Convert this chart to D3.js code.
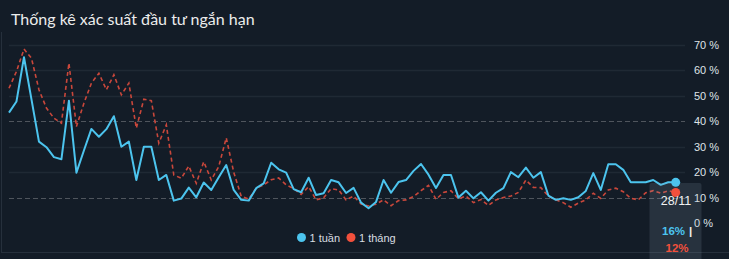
<!DOCTYPE html>
<html>
<head>
<meta charset="utf-8">
<script src="https://cdn.jsdelivr.net/npm/d3@7"></script>
<style>
  html, body { margin: 0; padding: 0; background: #131c27; overflow: hidden; }
  #graphic { width: 729px; height: 259px; }
</style>
</head>
<body>
<div id="graphic"></div>
<script>
// Global vars
var TITLE = 'Thống kê xác suất đầu tư ngắn hạn';
var LAST_LABEL = '28/11';
var SERIES_NAMES = ['1 tuần', '1 tháng'];
var TICKS = [0, 10, 20, 30, 40, 50, 60, 70];
var DASHED_TICKS = [10, 40];

// 1 tuần (%)
var weekValues = [
  43.4, 47.8, 65.2, 48.6, 32, 29.8, 25.9, 25.1, 48.1, 19.8,
  28.5, 37, 33.9, 36.9, 42, 30, 32, 16.9, 30, 30,
  16.9, 18.9, 8.8, 9.6, 13.9, 10.1, 15.9, 13, 18, 22.8,
  13, 9.1, 8.8, 13.7, 15.6, 23.7, 21.1, 19.8, 13.3, 12.1,
  17.8, 11, 11.7, 16.9, 16, 11.8, 13.8, 8, 5.8, 8.3,
  16.9, 11.9, 16.1, 16.9, 20.5, 23.2, 19, 13.8, 18.9, 18.9,
  10, 12.7, 9.7, 12.1, 8.8, 11.9, 13.7, 20, 18, 21.8,
  17.8, 20, 10.8, 9.1, 9.7, 9.1, 10.1, 12.6, 19.6, 13,
  23.1, 23.1, 20.9, 16, 16, 16, 16.9, 15, 16, 16
];

// 1 tháng (%)
var monthValues = [
  53, 59.6, 68.4, 64.8, 52.4, 45.2, 41.2, 39.3, 62.9, 37.9,
  47.1, 55, 58.9, 52.4, 58.3, 50.4, 55, 37.3, 48.7, 48.1,
  31.4, 38.6, 18.9, 17.6, 22.4, 15.6, 24.1, 16.9, 22.2, 33.5,
  20, 10.5, 9.4, 13.7, 15, 17, 17.7, 15, 13.5, 11.2,
  14.3, 9.1, 9.9, 13.5, 13, 9.1, 10.6, 7.5, 6.7, 7.4,
  9.1, 6.8, 8.8, 9.1, 10.4, 12.7, 14.8, 9.3, 12, 12.7,
  9.5, 10.6, 8, 9.2, 6.9, 9.1, 10, 10.6, 12, 16.9,
  14, 13.9, 10.6, 9.1, 8, 6.2, 7.8, 9.1, 11.7, 9.7,
  13, 13.7, 12.3, 9.7, 9.1, 11.9, 12.7, 11.7, 12.7, 12
];

var WEEK_COLOR = '#4cc4ee';
var MONTH_COLOR = '#c9473b';
var MONTH_DOT = '#f2503c';

/*
 * Render the graphic.
 */
var render = function () {
  var width = 729;
  var height = 259;

  var containerElement = d3.select('#graphic');
  containerElement.html('');

  var svg = containerElement
    .append('svg')
    .attr('width', width)
    .attr('height', height);

  svg.append('rect')
    .attr('width', width)
    .attr('height', height)
    .attr('fill', '#131c27');

  // panel borders
  svg.append('line')
    .attr('x1', 1.5).attr('x2', 1.5)
    .attr('y1', 32).attr('y2', 253)
    .attr('stroke', '#26303c');
  svg.append('line')
    .attr('x1', 1).attr('x2', width)
    .attr('y1', 252.5).attr('y2', 252.5)
    .attr('stroke', '#26303c');

  // title
  svg.append('text')
    .attr('x', 11)
    .attr('y', 25)
    .attr('fill', '#ececec')
    .style('font-family', 'Lato, "Open Sans", sans-serif')
    .style('font-size', '16px')
    .text(TITLE);

  var xScale = d3.scaleLinear()
    .domain([0, weekValues.length - 1])
    .range([9, 675.7]);

  var yScale = d3.scaleLinear()
    .domain([0, 70])
    .range([223, 45]);

  // grid lines
  var grid = svg.append('g');
  grid.selectAll('line')
    .data(TICKS.filter(function (d) { return d > 0; }))
    .enter().append('line')
    .attr('x1', 9)
    .attr('x2', 685)
    .attr('y1', function (d) { return Math.round(yScale(d)) + 0.5; })
    .attr('y2', function (d) { return Math.round(yScale(d)) + 0.5; })
    .attr('stroke', function (d) {
      return DASHED_TICKS.indexOf(d) >= 0 ? '#4f555d' : '#1f2934';
    })
    .attr('stroke-width', function (d) {
      return DASHED_TICKS.indexOf(d) >= 0 ? 1.2 : 1.5;
    })
    .attr('stroke-dasharray', function (d) {
      return DASHED_TICKS.indexOf(d) >= 0 ? '5,3' : null;
    });

  // right axis labels
  var yAxis = d3.axisRight(yScale)
    .tickValues(TICKS)
    .tickSize(0)
    .tickPadding(0)
    .tickFormat(function (d) { return d + ' %'; });

  var axisElement = svg.append('g')
    .attr('transform', 'translate(694,0)')
    .call(yAxis);
  axisElement.select('.domain').remove();
  axisElement.selectAll('text')
    .attr('fill', '#dfe3e8')
    .style('font-family', '"Liberation Sans", Arial, sans-serif')
    .style('font-size', '11px');

  // lines
  var line = function (values) {
    return d3.line()
      .x(function (d, i) { return xScale(i); })
      .y(function (d) { return yScale(d); })
      .curve(d3.curveLinear)(values);
  };

  svg.append('path')
    .attr('d', line(monthValues))
    .attr('fill', 'none')
    .attr('stroke', MONTH_COLOR)
    .attr('stroke-width', 1.6)
    .attr('stroke-dasharray', '4,3');

  svg.append('path')
    .attr('d', line(weekValues))
    .attr('fill', 'none')
    .attr('stroke', WEEK_COLOR)
    .attr('stroke-width', 2)
    .attr('stroke-linejoin', 'round');

  // tooltip box for the last point
  var last = weekValues.length - 1;
  svg.append('rect')
    .attr('x', 649.5)
    .attr('y', 183)
    .attr('width', 52)
    .attr('height', 80)
    .attr('rx', 2)
    .attr('fill', 'rgba(150,165,185,0.16)');

  svg.append('circle')
    .attr('cx', xScale(last))
    .attr('cy', yScale(weekValues[last]))
    .attr('r', 4.5)
    .attr('fill', WEEK_COLOR);

  svg.append('circle')
    .attr('cx', xScale(last))
    .attr('cy', yScale(monthValues[last]))
    .attr('r', 4.5)
    .attr('fill', MONTH_DOT);

  var tipFont = '"Liberation Sans", Arial, sans-serif';
  svg.append('text')
    .attr('x', 676)
    .attr('y', 205)
    .attr('text-anchor', 'middle')
    .attr('fill', '#f2f2f2')
    .style('font-family', tipFont)
    .style('font-size', '12.5px')
    .text(LAST_LABEL);

  var tip1 = svg.append('text')
    .attr('x', 662)
    .attr('y', 235)
    .style('font-family', tipFont)
    .style('font-size', '11.5px')
    .style('font-weight', 'bold');
  tip1.append('tspan')
    .attr('fill', WEEK_COLOR)
    .text(Math.round(weekValues[last]) + '%');
  tip1.append('tspan')
    .attr('fill', '#f2f2f2')
    .attr('dx', 4)
    .text('|');

  svg.append('text')
    .attr('x', 665.5)
    .attr('y', 252)
    .attr('fill', MONTH_DOT)
    .style('font-family', tipFont)
    .style('font-size', '11.5px')
    .style('font-weight', 'bold')
    .text(Math.round(monthValues[last]) + '%');

  // legend
  var legendItems = [
    { name: SERIES_NAMES[0], color: WEEK_COLOR, x: 301.5 },
    { name: SERIES_NAMES[1], color: MONTH_DOT, x: 351 }
  ];
  var legend = svg.append('g');
  var item = legend.selectAll('g')
    .data(legendItems)
    .enter().append('g')
    .attr('transform', function (d) { return 'translate(' + d.x + ',237.5)'; });
  item.append('circle')
    .attr('r', 4.5)
    .attr('fill', function (d) { return d.color; });
  item.append('text')
    .attr('x', 8)
    .attr('y', 4)
    .attr('fill', '#d8dce1')
    .style('font-family', tipFont)
    .style('font-size', '11px')
    .text(function (d) { return d.name; });
};

/*
 * Initially load the graphic
 */
window.onload = render;
</script>
</body>
</html>
